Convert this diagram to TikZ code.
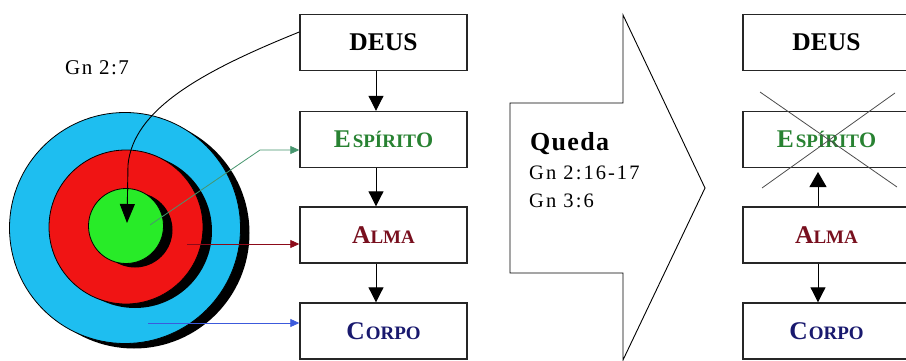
\documentclass[tikz,border=0pt]{standalone}
\usepackage{fontspec}
\setmainfont{Liberation Serif}
\usetikzlibrary{arrows.meta}
\definecolor{cblue}{RGB}{30,190,240}
\definecolor{cred}{RGB}{240,20,20}
\definecolor{cgreen}{RGB}{40,235,40}
\definecolor{tgreen}{RGB}{40,130,50}
\definecolor{tred}{RGB}{120,15,30}
\definecolor{tblue}{RGB}{25,25,110}
\definecolor{lgreen}{RGB}{70,150,110}
\definecolor{lred}{RGB}{140,10,25}
\definecolor{lblue}{RGB}{60,90,220}
\newcommand\mysmall[1]{{\fontsize{19}{19}\selectfont #1}}
\newcommand\mymid[1]{{\fontsize{22}{22}\selectfont #1}}
\begin{document}
\begin{tikzpicture}[x=1pt,y=-1pt,
  box/.style={draw=black!85,line width=1.4pt,minimum width=167pt,minimum height=56pt,inner sep=0pt,font=\bfseries\fontsize{25.5}{25.5}\selectfont},
  flow/.style={line width=1pt,-{Triangle[length=15pt,width=15pt]}},
  thinarrow/.style={line width=0.8pt,-{Triangle[length=9pt,width=8pt]}},
  disc/.style={draw=black,line width=0.8pt},
  ref/.style={anchor=base west,inner sep=0pt,font=\fontsize{20.5}{20.5}\selectfont\addfontfeature{LetterSpace=10}}]
\useasboundingbox (0,0) rectangle (906,361);
\fill[white] (0,0) rectangle (906,361);
% target circles with shadows
\fill[black] (134,233) circle[radius=115.5pt];
\filldraw[disc,fill=cblue] (125,228) circle[radius=115.5pt];
\fill[black] (135,231) circle[radius=77pt];
\filldraw[disc,fill=cred] (126,227) circle[radius=77pt];
\fill[black] (135,230) circle[radius=37.5pt];
\filldraw[disc,fill=cgreen] (126,226) circle[radius=37.5pt];
\node[ref,font=\fontsize{21}{21}\selectfont\addfontfeature{LetterSpace=7}] (gn27) at (65,75) {Gn 2:7};
% left column
\node[box] (deus) at (383.5,42.5) {DEUS};
\node[box,text=tgreen] (esp) at (383.5,139.5) {E\kern2pt\mysmall{SPÍRIT}\mymid{O}};
\node[box,text=tred] (alma) at (383.5,235) {A\mysmall{LMA}};
\node[box,text=tblue] (corpo) at (383.5,331) {C\kern1pt\mysmall{ORPO}};
\draw[flow] ([xshift=-7.5pt]deus.south) -- ([xshift=-7.5pt]esp.north);
\draw[flow] ([xshift=-7.5pt]esp.south) -- ([xshift=-7.5pt]alma.north);
\draw[flow] ([xshift=-7.5pt]alma.south) -- ([xshift=-7.5pt]corpo.north);
% connectors to the circles
\coordinate (gtip) at (127,223);
\draw[line width=0.9pt,-{Triangle[length=19pt,width=15pt]}] ([yshift=10.5pt]deus.west) .. controls (200,72) and (133,110) .. (128,165) -- (gtip);
\coordinate (gs) at (150,225);
\coordinate (gk) at (260,150);
\draw[thinarrow,lgreen] (gs) -- (gk) -- ([yshift=-10.5pt]esp.west);
\coordinate (rs) at (187,244);
\draw[thinarrow,lred] (rs) -- (rs -| alma.west);
\coordinate (bs) at (148,323);
\draw[thinarrow,lblue] (bs) -- (bs -| corpo.west);
% big arrow
\draw[line width=0.9pt] (510,103) -- (623,103) -- (623,15) -- (705,188) -- (623,360) -- (623,273) -- (510,273) -- cycle;
\node[anchor=base west,inner sep=0pt,font=\bfseries\fontsize{26}{26}\selectfont\addfontfeature{LetterSpace=5}] (queda) at (530,150) {Queda};
\node[ref] (gn216) at (529,179) {Gn 2:16-17};
\node[ref] (gn36) at (529,207) {Gn 3:6};
% right column
\node[box] (deus2) at (826.5,42.5) {DEUS};
\node[box,text=tgreen] (esp2) at (826.5,139.5) {E\kern2pt\mysmall{SPÍRIT}\mymid{O}};
\node[box,text=tred] (alma2) at (826.5,235) {A\mysmall{LMA}};
\node[box,text=tblue] (corpo2) at (826.5,331) {C\kern1pt\mysmall{ORPO}};
\coordinate (uptip) at (818,172);
\draw[line width=1pt,-{Triangle[length=15pt,width=17pt]}] (alma2.north -| uptip) -- (uptip);
\draw[flow] ([xshift=-8.5pt]alma2.south) -- ([xshift=-8.5pt]corpo2.north);
\draw[black!70,line width=0.8pt] (760,92) -- (897,187) (762,188) -- (895,93);
\end{tikzpicture}
\end{document}
